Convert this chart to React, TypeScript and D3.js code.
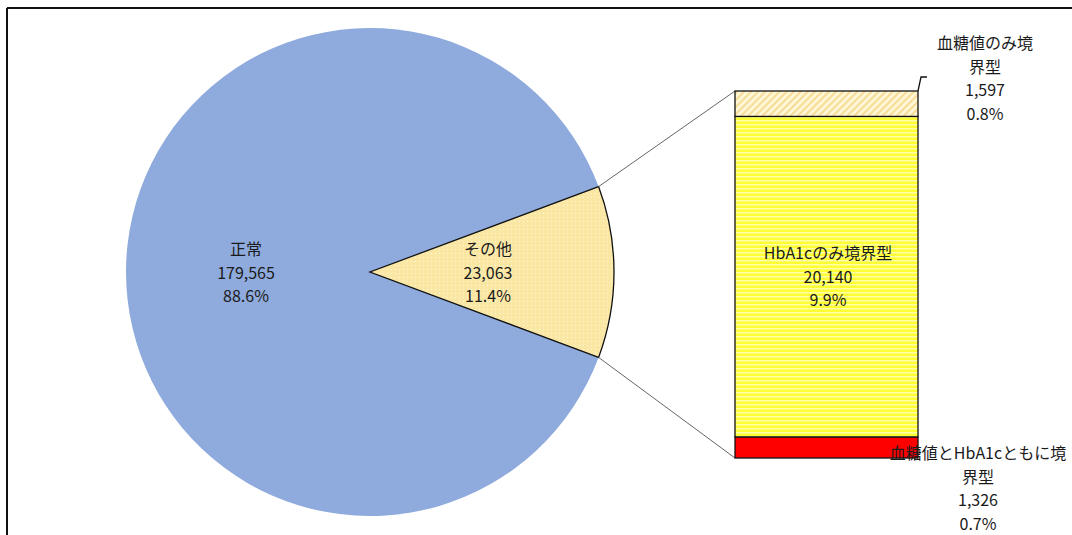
import React from "react";
import * as d3 from "d3";

const pieNames = ["正常", "その他"];
const pieValues = [179565, 23063];
const piePercents = ["88.6%", "11.4%"];

const barNames = ["血糖値とHbA1cともに境界型", "HbA1cのみ境界型", "血糖値のみ境界型"];
const barValues = [1326, 20140, 1597];
const barPercents = ["0.7%", "9.9%", "0.8%"];

const W = 1072;
const H = 535;
const fmt = d3.format(",");

export default function App() {
  const cx = 370, cy = 272, r = 244;
  const total = d3.sum(pieValues);
  const a = (2 * Math.PI * pieValues[1]) / total;
  const pie = d3.pie<number>().sort(null).startAngle(Math.PI / 2 + a / 2).endAngle(Math.PI / 2 + a / 2 + 2 * Math.PI);
  const arcs = pie(pieValues);
  const arcGen = d3.arc<d3.PieArcDatum<number>>().innerRadius(0).outerRadius(r);

  const other = arcs[1];
  const pt = (ang: number) => [cx + r * Math.sin(ang), cy - r * Math.cos(ang)];
  const pTop = pt(other.startAngle);
  const pBot = pt(other.endAngle);

  const bx0 = 735, bx1 = 918;
  const barTotal = d3.sum(barValues);
  const y = d3.scaleLinear().domain([0, barTotal]).range([458, 91]);
  const cum = [0];
  barValues.forEach((v, i) => cum.push(cum[i] + v));
  const barFills = ["#FF0000", "url(#hstripe)", "url(#diag)"];

  const font = "'Noto Sans CJK JP', 'Noto Sans', sans-serif";
  const lh = 23.5;

  const label = (lines: string[], x: number, y0: number, key: string) => (
    <text key={key} x={x} y={y0} textAnchor="middle" fontSize={16} fill="#1a1a1a" fontFamily={font}>
      {lines.map((l, i) => (
        <tspan key={i} x={x} y={y0 + i * lh}>{l}</tspan>
      ))}
    </text>
  );

  return (
    <div style={{ position: "absolute", left: 0, top: 0 }}>
      <svg width={W} height={H} style={{ display: "block" }}>
        <defs>
          <pattern id="dots" width="4" height="4" patternUnits="userSpaceOnUse">
            <rect width="4" height="4" fill="#FBE7A4" />
            <rect x="1" y="1" width="1" height="1" fill="#FFF8E0" />
          </pattern>
          <pattern id="hstripe" width="4" height="4" patternUnits="userSpaceOnUse">
            <rect width="4" height="4" fill="#FFFF33" />
            <rect y="0" width="4" height="1.5" fill="#FFFFA8" />
          </pattern>
          <pattern id="diag" width="5" height="5" patternUnits="userSpaceOnUse" patternTransform="rotate(45)">
            <rect width="5" height="5" fill="#FFF6D6" />
            <rect width="2" height="5" fill="#F6DC96" />
          </pattern>
        </defs>
        <rect x={0} y={0} width={W} height={H} fill="#fff" />
        <line x1={7} y1={8} x2={W} y2={8} stroke="#111" strokeWidth={2} />
        <line x1={7} y1={8} x2={7} y2={H} stroke="#111" strokeWidth={2} />

        <path d={arcGen(arcs[0]) || ""} transform={`translate(${cx},${cy})`} fill="#8FAADC" />
        <path d={arcGen(arcs[1]) || ""} transform={`translate(${cx},${cy})`} fill="url(#dots)" stroke="#111" strokeWidth={1.3} />

        <line x1={pTop[0]} y1={pTop[1]} x2={bx0} y2={y(barTotal)} stroke="#666" strokeWidth={1} />
        <line x1={pBot[0]} y1={pBot[1]} x2={bx0} y2={y(0)} stroke="#666" strokeWidth={1} />

        {barValues.map((v, i) => (
          <rect key={i} x={bx0} y={y(cum[i + 1])} width={bx1 - bx0} height={y(cum[i]) - y(cum[i + 1])}
            fill={barFills[i]} stroke="#111" strokeWidth={1.3} />
        ))}

        <polyline points={`${bx1},${y(barTotal)} ${bx1 + 3},${y(barTotal) - 14} ${bx1 + 9},${y(barTotal) - 14}`}
          fill="none" stroke="#111" strokeWidth={1.3} />

        {label([pieNames[0], fmt(pieValues[0]), piePercents[0]], 246, 255, "p0")}
        {label([pieNames[1], fmt(pieValues[1]), piePercents[1]], 488, 255, "p1")}
        {label([barNames[1], fmt(barValues[1]), barPercents[1]], 828, 259, "b1")}
        {label(["血糖値のみ境", "界型", fmt(barValues[2]), barPercents[2]], 985, 49, "b2")}
        {label(["血糖値とHbA1cともに境", "界型", fmt(barValues[0]), barPercents[0]], 978, 459, "b0")}
      </svg>
    </div>
  );
}
